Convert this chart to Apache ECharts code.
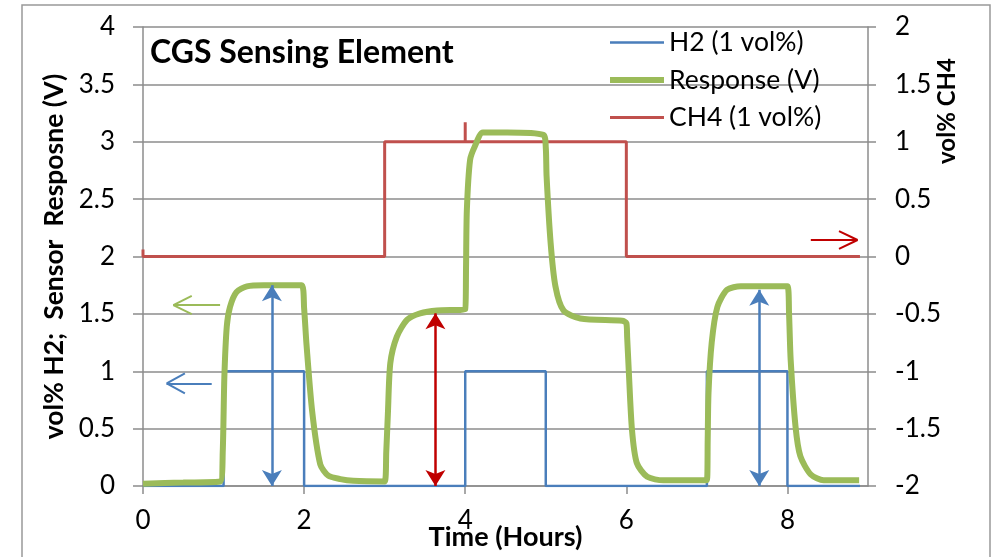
<!DOCTYPE html>
<html lang="en">
<head>
  <meta charset="UTF-8">
  <title>CGS Sensing Element</title>
  <script src="https://cdn.jsdelivr.net/npm/echarts@6/dist/echarts.min.js"></script>
  <style>
    html, body { margin: 0; padding: 0; background: #fff; }
  </style>
</head>
<body>
<div id="main" style="width: 997px;height:557px;"></div>
<script>
  // x ticks (hours) shown on the bottom axis
  var xTicks = [0, 2, 4, 6, 8];

  // H2 concentration, vol% (left axis) - step profile
  var h2Data = [[0, 0], [1, 0], [1, 1], [2, 1], [2, 0], [4, 0], [4, 1], [5, 1], [5, 0],
    [7, 0], [7, 1], [8, 1], [8, 0], [8.9, 0]];

  // CH4 concentration, vol% (right axis)
  var ch4Data = [[0, 0.06], [0, 0], [3, 0], [3, 1], [4, 1], [4, 1.17], [4, 1], [6, 1], [6, 0], [8.9, 0]];

  // sensor response, V (left axis)
  var responseData = [
    [0, 0.02], [0.5, 0.03], [0.96, 0.04], [0.99, 0.3], [1.01, 0.95], [1.04, 1.39], [1.08, 1.56],
    [1.16, 1.69], [1.29, 1.74], [1.5, 1.75], [1.97, 1.75],
    [2.0, 1.55], [2.03, 1.23], [2.1, 0.65], [2.2, 0.19], [2.3, 0.09], [2.45, 0.06], [2.61, 0.045], [3.0, 0.04],
    [3.02, 0.3], [3.04, 0.63], [3.07, 1.07], [3.15, 1.3], [3.28, 1.45], [3.44, 1.505], [3.65, 1.53], [4.0, 1.54],
    [4.01, 1.9], [4.02, 2.4], [4.06, 2.84], [4.12, 2.96], [4.22, 3.08], [4.52, 3.08], [4.97, 3.06],
    [5.0, 2.95], [5.01, 2.7], [5.06, 2.12], [5.12, 1.74], [5.22, 1.53], [5.43, 1.46], [5.95, 1.44],
    [6.0, 1.42], [6.01, 1.3], [6.03, 1.01], [6.07, 0.49], [6.13, 0.2], [6.26, 0.08], [6.46, 0.05], [7.0, 0.05],
    [7.01, 0.4], [7.02, 0.81], [7.06, 1.25], [7.13, 1.56], [7.25, 1.71], [7.42, 1.74], [8.0, 1.74],
    [8.02, 1.5], [8.04, 1.1], [8.1, 0.52], [8.16, 0.26], [8.29, 0.1], [8.45, 0.05], [8.89, 0.05]
  ];

  // double-headed arrows (x, from, to) in data units of the left axis
  var doubleArrows = [
    { x: 1.6, from: 0, to: 1.75, color: '#4a7ebb' },
    { x: 3.63, from: 0, to: 1.505, color: '#c00000' },
    { x: 7.65, from: 0, to: 1.71, color: '#4a7ebb' }
  ];

  // open arrows pointing to the axis of each series: tail -> tip, head length / half width
  var axisArrows = [
    { tail: [0.957, 1.577], tip: [0.377, 1.577], head: [0.228, 0.08], color: '#9bbb59' },
    { tail: [0.853, 0.895], tip: [0.294, 0.895], head: [0.226, 0.087], color: '#4a7ebb' },
    { tail: [8.29, 2.144], tip: [8.87, 2.144], head: [-0.23, 0.078], color: '#c00000' }
  ];

  var font = 'Lato, "Open Sans", "DejaVu Sans", sans-serif';
  var gridColor = '#8c8c8c';

  // legend icon: a horizontal bar of the given thickness inside a 54x14 box
  function barIcon(t) {
    var y0 = (14 - t) / 2;
    return 'path://M0,0h0.01v0.01h-0.01z M54,14h-0.01v-0.01h0.01z M0,' + y0 + 'h54v' + t + 'h-54z';
  }

  var marks = [];
  doubleArrows.forEach(function (a) {
    var ls = { color: a.color, width: 2.5, type: 'solid' };
    marks.push([
      { coord: [a.x, a.from], symbol: 'arrow', symbolSize: [15, 16], lineStyle: ls },
      { coord: [a.x, a.to], symbol: 'arrow', symbolSize: [15, 16], lineStyle: ls }
    ]);
  });
  axisArrows.forEach(function (a) {
    var ls = { color: a.color, width: 2, type: 'solid' };
    var armX = a.tip[0] + a.head[0];
    var pairs = [
      [a.tail, a.tip],
      [a.tip, [armX, a.tip[1] + a.head[1]]],
      [a.tip, [armX, a.tip[1] - a.head[1]]]
    ];
    pairs.forEach(function (p) {
      marks.push([
        { coord: p[0], symbol: 'none', lineStyle: ls },
        { coord: p[1], symbol: 'none', lineStyle: ls }
      ]);
    });
  });

  var myChart = echarts.init(document.getElementById('main'));
  myChart.setOption({
    animation: false,
    backgroundColor: '#fff',
    title: {
      text: 'CGS Sensing Element',
      left: 150,
      top: 37,
      padding: 0,
      textStyle: { fontFamily: font, fontSize: 32, fontWeight: 'bold', color: '#000' }
    },
    legend: {
      data: [
        { name: 'H2 (1 vol%)', icon: barIcon(2.5) },
        { name: 'Response (V)', icon: barIcon(6) },
        { name: 'CH4 (1 vol%)', icon: barIcon(3) }
      ],
      orient: 'vertical',
      left: 610,
      top: 28,
      padding: 0,
      itemWidth: 54,
      itemHeight: 14,
      itemGap: 8.5,
      textStyle: { fontFamily: font, fontSize: 26.5, color: '#000', lineHeight: 29 }
    },
    graphic: [
      {
        type: 'rect',
        shape: { x: 22, y: 5, width: 968, height: 600 },
        style: { fill: 'none', stroke: '#999', lineWidth: 1.5 },
        silent: true
      },
      {
        type: 'text',
        x: 947,
        y: 111,
        rotation: Math.PI / 2,
        style: {
          text: 'vol% CH4',
          fontFamily: font,
          fontSize: 24,
          fontWeight: 'bold',
          fill: '#000',
          align: 'center',
          verticalAlign: 'middle'
        },
        silent: true
      }
    ],
    grid: { left: 143, right: 129, top: 27, bottom: 71, outerBoundsMode: 'none' },
    xAxis: {
      type: 'value',
      min: 0,
      max: 9,
      interval: 2,
      name: 'Time (Hours)',
      nameLocation: 'middle',
      nameGap: 38,
      nameMoveOverlap: false,
      nameTextStyle: { fontFamily: font, fontSize: 27, fontWeight: 'bold', color: '#000' },
      axisLine: { show: true, lineStyle: { color: gridColor, width: 1.5 } },
      axisTick: { show: true, length: 8, customValues: xTicks, lineStyle: { color: gridColor, width: 1.5 } },
      axisLabel: { customValues: xTicks, margin: 22, fontFamily: font, fontSize: 26, color: '#000' },
      splitLine: { show: false }
    },
    yAxis: [
      {
        type: 'value',
        min: 0,
        max: 4,
        interval: 0.5,
        name: 'vol% H2;  Sensor  Resposne (V)',
        nameLocation: 'middle',
        nameGap: 72,
        nameTextStyle: { fontFamily: font, fontSize: 26.5, fontWeight: 'bold', color: '#000' },
        axisLine: { show: true, lineStyle: { color: gridColor, width: 1.5 } },
        axisTick: { show: true, length: 10, lineStyle: { color: gridColor, width: 1.5 } },
        axisLabel: { margin: 28, fontFamily: font, fontSize: 26, color: '#000' },
        splitLine: { show: true, lineStyle: { color: gridColor, width: 1.5 } }
      },
      {
        type: 'value',
        min: -2,
        max: 2,
        interval: 0.5,
        position: 'right',
        axisLine: { show: true, lineStyle: { color: gridColor, width: 1.5 } },
        axisTick: { show: true, length: 8, lineStyle: { color: gridColor, width: 1.5 } },
        axisLabel: { margin: 27, fontFamily: font, fontSize: 26, color: '#000' },
        splitLine: { show: false }
      }
    ],
    series: [
      {
        name: 'H2 (1 vol%)',
        type: 'line',
        data: h2Data,
        showSymbol: false,
        symbol: 'none',
        lineStyle: { color: '#4a7ebb', width: 2.5 },
        itemStyle: { color: '#4a7ebb' }
      },
      {
        name: 'CH4 (1 vol%)',
        type: 'line',
        yAxisIndex: 1,
        data: ch4Data,
        showSymbol: false,
        symbol: 'none',
        lineStyle: { color: '#c0504d', width: 3 },
        itemStyle: { color: '#c0504d' }
      },
      {
        name: 'Response (V)',
        type: 'line',
        data: responseData,
        showSymbol: false,
        symbol: 'none',
        smooth: 0.25,
        lineStyle: { color: '#9bbb59', width: 6 },
        itemStyle: { color: '#9bbb59' },
        markLine: {
          silent: true,
          animation: false,
          label: { show: false },
          emphasis: { disabled: true },
          data: marks
        }
      }
    ]
  });
</script>
</body>
</html>
